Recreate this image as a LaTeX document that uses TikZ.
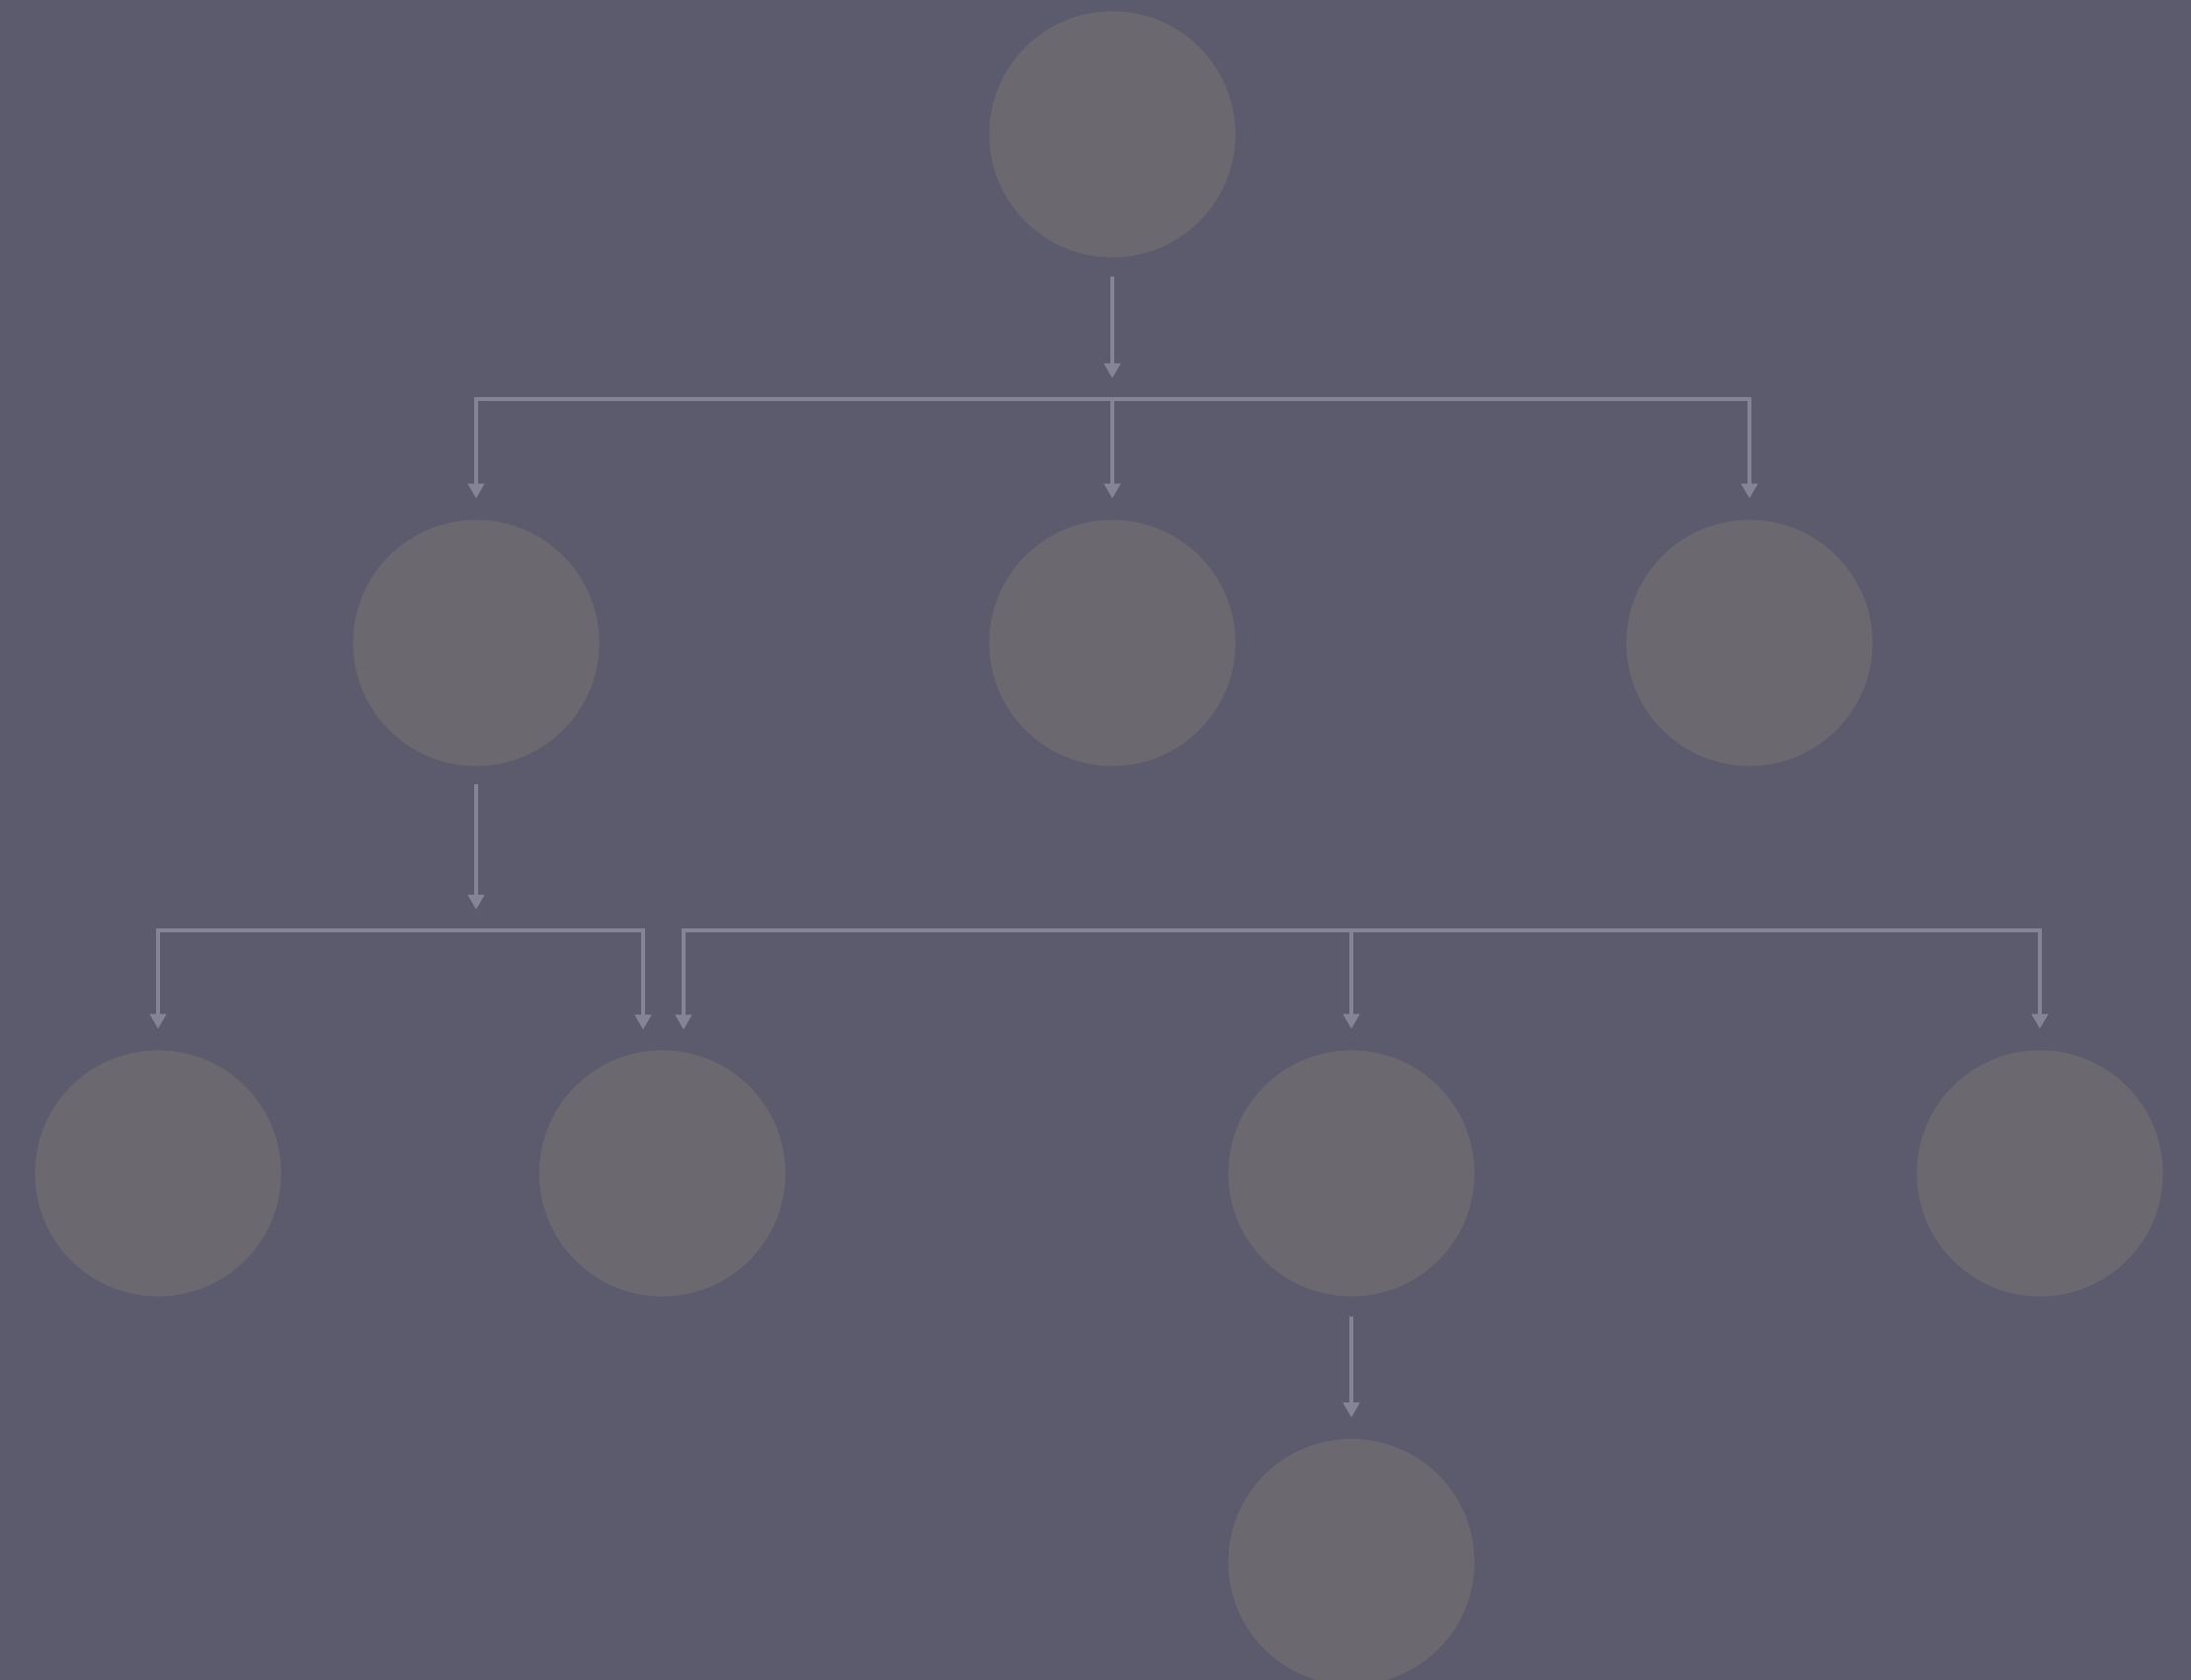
\documentclass[tikz,border=0pt]{standalone}
\usetikzlibrary{arrows.meta}
\definecolor{bgc}{HTML}{5C5B6E}
\definecolor{nodec}{HTML}{6B686F}
\definecolor{linec}{HTML}{858494}
\begin{document}
\begin{tikzpicture}[x=0.01cm,y=-0.01cm,
  circ/.style={circle,fill=nodec,draw=none,minimum size=2.49cm,inner sep=0pt},
  wire/.style={draw=linec,line width=0.04cm},
  conn/.style={wire,-{Triangle[width=0.16cm,length=0.15cm]}},
  gapstart/.style={shorten <=0.19cm},
  gapend/.style={shorten >=0.21cm}]
\fill[bgc] (0,0) rectangle (2218,1701);
\useasboundingbox (0,0) rectangle (2218,1701);
\clip (0,0) rectangle (2218,1701);
% nodes
\node[circ] (root) at (1126,136) {};
\node[circ] (n1) at (482,651) {};
\node[circ] (n2) at (1126,651) {};
\node[circ] (n3) at (1771,651) {};
\node[circ] (m1) at (160,1188) {};
\node[circ] (m2) at (670.5,1188) {};
\node[circ] (m3) at (1368,1188) {};
\node[circ] (m4) at (2065,1188) {};
\node[circ] (m5) at (1368,1581.5) {};
% coordinates
\coordinate (j1) at (1126,404);
\coordinate (j2) at (482,942);
\coordinate (j3) at (1368,942);
\coordinate (t2a) at (651,1042.5);
\coordinate (t2b) at (692,1042.5);
% level 1
\draw[conn,gapstart,gapend] (root.south) -- (j1);
\draw[conn,gapend] (j1) -| (n1.north);
\draw[conn,gapend] (j1) -| (n3.north);
\draw[conn,gapend] (j1) -- (n2.north);
% level 2
\draw[conn,shorten <=0.18cm,gapend] (n1.south) -- (j2);
\draw[conn,gapend] (j2) -| (m1.north);
\draw[conn] (j2) -| (t2a);
\draw[conn] (j3) -| (t2b);
\draw[conn,gapend] (j3) -- (m3.north);
\draw[conn,gapend] (j3) -| (m4.north);
% level 3
\draw[conn,shorten <=0.20cm,gapend] (m3.south) -- (m5.north);
\end{tikzpicture}
\end{document}
